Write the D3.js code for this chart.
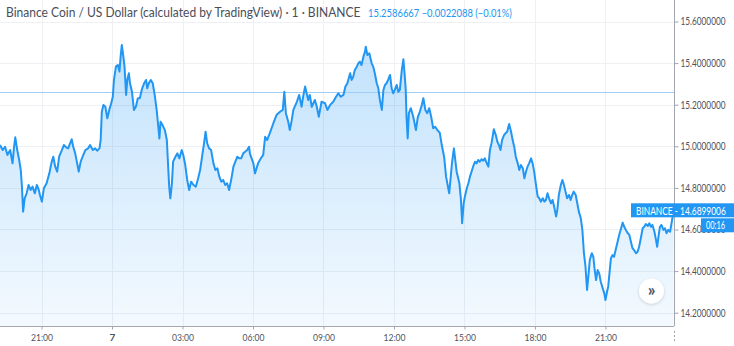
<!DOCTYPE html>
<html>
<head>
<meta charset="utf-8">
<script src="https://cdn.jsdelivr.net/npm/d3@7"></script>
<style>
  html, body { margin: 0; padding: 0; background: #fff; }
  svg { display: block; }
</style>
</head>
<body>
<svg id="chart" width="734" height="346"></svg>
<script>
// BNB/USD one-minute closes, as [minutes since session start, price]
const seriesStart = "2020-04-06T19:14:00";
const priceSeries = [
[0,15.006],[7,14.982],[13,14.998],[19,14.958],[26,14.982],[32,14.918],[36,14.998],[39,15.043],[44,14.982],[49,14.934],[53,14.886],[56,14.806],[59,14.686],[63,14.750],[68,14.774],[73,14.814],[78,14.790],[83,14.806],[89,14.774],[94,14.814],[99,14.790],[102,14.766],[107,14.734],[112,14.798],[119,14.822],[126,14.870],[132,14.926],[136,14.950],[141,14.902],[146,14.878],[151,14.950],[158,14.982],[163,15.006],[169,14.995],[174,14.990],[179,15.014],[183,15.034],[187,14.998],[192,14.966],[197,14.918],[201,14.878],[206,14.926],[211,14.950],[218,14.982],[225,14.990],[230,15.006],[237,14.982],[243,14.990],[248,14.979],[254,14.990],[257,15.030],[260,15.166],[264,15.199],[269,15.190],[274,15.135],[279,15.175],[284,15.207],[288,15.238],[291,15.319],[296,15.383],[301,15.391],[305,15.359],[308,15.431],[311,15.487],[315,15.431],[318,15.383],[322,15.247],[325,15.319],[329,15.351],[332,15.303],[337,15.262],[342,15.175],[347,15.190],[352,15.231],[357,15.231],[363,15.279],[368,15.303],[373,15.319],[376,15.279],[380,15.303],[385,15.319],[390,15.303],[395,15.247],[400,15.175],[403,15.118],[407,15.038],[410,15.118],[415,15.102],[421,15.078],[426,15.030],[429,14.918],[432,14.806],[435,14.750],[439,14.822],[442,14.926],[448,14.950],[453,14.966],[458,14.942],[464,14.982],[468,14.958],[473,14.910],[478,14.838],[483,14.790],[488,14.830],[494,14.814],[500,14.806],[506,14.846],[511,14.886],[516,14.950],[521,15.014],[525,15.070],[529,15.014],[534,14.990],[539,14.982],[545,14.918],[550,14.886],[555,14.894],[560,14.854],[565,14.830],[570,14.838],[575,14.814],[580,14.822],[585,14.790],[591,14.846],[596,14.902],[601,14.926],[606,14.950],[611,14.942],[616,14.942],[621,14.966],[626,14.974],[631,14.982],[636,14.998],[638,14.966],[647,14.918],[651,14.870],[659,14.918],[666,14.942],[672,14.958],[677,15.046],[682,15.030],[689,15.063],[698,15.111],[706,15.150],[715,15.166],[722,15.175],[726,15.262],[730,15.159],[736,15.118],[740,15.078],[745,15.126],[749,15.175],[758,15.214],[764,15.247],[770,15.190],[774,15.238],[779,15.287],[783,15.255],[787,15.223],[791,15.247],[796,15.190],[804,15.223],[809,15.190],[814,15.142],[821,15.214],[830,15.207],[836,15.175],[843,15.199],[851,15.214],[858,15.238],[864,15.255],[870,15.238],[877,15.247],[882,15.287],[887,15.303],[894,15.351],[898,15.319],[902,15.335],[906,15.367],[911,15.383],[915,15.399],[919,15.407],[923,15.391],[928,15.431],[932,15.455],[934,15.479],[938,15.439],[943,15.447],[949,15.399],[953,15.383],[957,15.351],[962,15.303],[966,15.279],[970,15.223],[975,15.175],[979,15.271],[983,15.295],[987,15.303],[991,15.319],[996,15.343],[1000,15.279],[1004,15.255],[1008,15.271],[1013,15.295],[1017,15.262],[1021,15.271],[1026,15.367],[1030,15.418],[1033,15.351],[1036,15.271],[1038,15.142],[1041,15.038],[1044,15.159],[1049,15.183],[1054,15.150],[1057,15.126],[1062,15.078],[1067,15.142],[1072,15.166],[1077,15.199],[1081,15.231],[1086,15.175],[1091,15.159],[1096,15.183],[1101,15.142],[1106,15.087],[1111,15.094],[1117,15.078],[1123,15.064],[1128,15.006],[1134,14.950],[1139,14.854],[1143,14.814],[1147,14.774],[1151,14.854],[1154,14.918],[1159,14.990],[1166,14.878],[1173,14.822],[1177,14.742],[1180,14.630],[1184,14.726],[1187,14.758],[1192,14.798],[1196,14.822],[1200,14.854],[1204,14.878],[1208,14.902],[1213,14.926],[1217,14.918],[1221,14.934],[1225,14.926],[1230,14.938],[1234,14.931],[1238,14.942],[1243,14.918],[1247,14.902],[1251,14.982],[1255,15.014],[1261,15.082],[1266,15.054],[1270,15.022],[1274,15.006],[1278,14.982],[1282,15.030],[1287,15.054],[1291,15.063],[1295,15.070],[1300,15.107],[1305,15.070],[1309,15.030],[1313,14.998],[1317,14.950],[1322,14.918],[1326,14.886],[1330,14.910],[1335,14.894],[1339,14.846],[1343,14.878],[1347,14.902],[1351,14.918],[1356,14.942],[1360,14.918],[1364,14.878],[1368,14.822],[1373,14.758],[1377,14.750],[1381,14.734],[1386,14.750],[1390,14.734],[1394,14.742],[1398,14.774],[1402,14.750],[1407,14.726],[1411,14.742],[1415,14.710],[1420,14.662],[1423,14.694],[1427,14.766],[1432,14.814],[1436,14.838],[1440,14.814],[1444,14.782],[1448,14.750],[1453,14.766],[1457,14.742],[1461,14.766],[1465,14.782],[1470,14.766],[1474,14.726],[1478,14.686],[1483,14.654],[1487,14.598],[1491,14.486],[1495,14.421],[1499,14.309],[1503,14.389],[1506,14.453],[1511,14.486],[1515,14.469],[1518,14.413],[1522,14.357],[1526,14.405],[1530,14.389],[1534,14.349],[1539,14.317],[1543,14.293],[1546,14.261],[1550,14.301],[1553,14.325],[1557,14.405],[1560,14.462],[1564,14.477],[1568,14.469],[1573,14.510],[1577,14.541],[1581,14.574],[1586,14.606],[1590,14.633],[1594,14.613],[1598,14.598],[1603,14.582],[1607,14.574],[1611,14.541],[1615,14.510],[1619,14.501],[1624,14.486],[1628,14.493],[1632,14.517],[1637,14.565],[1641,14.606],[1645,14.613],[1649,14.626],[1654,14.617],[1658,14.630],[1662,14.613],[1666,14.622],[1671,14.589],[1675,14.550],[1678,14.517],[1682,14.574],[1685,14.613],[1689,14.622],[1694,14.598],[1698,14.606],[1702,14.582],[1706,14.598],[1711,14.589],[1720,14.6899006]
];
const visibleMinutes = 1721;

const priceTicks = [14.2, 14.4, 14.6, 14.8, 15.0, 15.2, 15.4, 15.6];
const priceDomain = [14.2, 15.6];
const sessionPrice = 15.2586667;
const lastPrice = 14.6899006;

const titleText = "Binance Coin / US Dollar (calculated by TradingView) \u00b7 1 \u00b7 BINANCE";
const changeText = "15.2586667 \u22120.0022088 (\u22120.01%)";
const lastLabel = "BINANCE - 14.6899006";
const countdownLabel = "00:16";

const W = 734, H = 346;
const paneRight = 674, paneBottom = 326;
const blue = "#2196f3";
const gridColor = "#eef0f4";
const textColor = "#50535e";
const font = "Lato, 'Open Sans', sans-serif";

// condensed text: squeeze a label horizontally about its anchor to a given width
const fit = (sel, w) => sel.each(function () {
  const natural = this.getComputedTextLength();
  if (!natural) return;
  const k = w / natural;
  const ax = +this.getAttribute("x") || 0;
  d3.select(this).attr("transform", `translate(${ax},0) scale(${k},1) translate(${-ax},0)`);
});

const svg = d3.select("#chart");
svg.append("rect").attr("width", W).attr("height", H).attr("fill", "#fff");

const t0 = new Date(seriesStart);
const addMin = m => new Date(t0.getTime() + m * 60000);
const data = priceSeries.map(([m, p]) => ({ t: addMin(m), p }));

const x = d3.scaleTime().domain([t0, addMin(visibleMinutes)]).range([0, paneRight]);
const y = d3.scaleLinear().domain(priceDomain).range([312.7, 21.5]);

const timeTicks = d3.timeHour.every(3).range(t0, addMin(visibleMinutes));
const fmtHour = d3.timeFormat("%H:%M");
const fmtDay = d3.timeFormat("%-d");
const isDay = d => d.getHours() === 0;
const timeLabel = d => (isDay(d) ? fmtDay(d) : fmtHour(d));

// grid
const grid = svg.append("g");
grid.selectAll("line.v").data(timeTicks).join("line")
  .attr("x1", d => Math.round(x(d)) + 0.5).attr("x2", d => Math.round(x(d)) + 0.5)
  .attr("y1", 0).attr("y2", paneBottom)
  .attr("stroke", gridColor).attr("stroke-width", 1);
grid.selectAll("line.h").data(priceTicks).join("line")
  .attr("x1", 0).attr("x2", paneRight)
  .attr("y1", d => Math.round(y(d)) + 0.5).attr("y2", d => Math.round(y(d)) + 0.5)
  .attr("stroke", gridColor).attr("stroke-width", 1);

// area fill
const defs = svg.append("defs");
const grad = defs.append("linearGradient").attr("id", "areaFill")
  .attr("gradientUnits", "userSpaceOnUse")
  .attr("x1", 0).attr("x2", 0).attr("y1", y(d3.max(data, d => d.p))).attr("y2", paneBottom);
grad.append("stop").attr("offset", 0).attr("stop-color", blue).attr("stop-opacity", 0.28);
grad.append("stop").attr("offset", 1).attr("stop-color", blue).attr("stop-opacity", 0.05);

const shadow = defs.append("filter").attr("id", "btnShadow")
  .attr("x", "-50%").attr("y", "-50%").attr("width", "200%").attr("height", "200%");
shadow.append("feDropShadow").attr("dx", 0).attr("dy", 1).attr("stdDeviation", 1.5)
  .attr("flood-color", "#000").attr("flood-opacity", 0.18);

svg.append("path").datum(data)
  .attr("fill", "url(#areaFill)")
  .attr("d", d3.area().x(d => x(d.t)).y0(paneBottom).y1(d => y(d.p)));

// session price line
svg.append("line")
  .attr("x1", 0).attr("x2", paneRight)
  .attr("y1", Math.round(y(sessionPrice)) + 0.5).attr("y2", Math.round(y(sessionPrice)) + 0.5)
  .attr("stroke", "#9fcdf6").attr("stroke-width", 1);

// price line
svg.append("path").datum(data)
  .attr("fill", "none").attr("stroke", blue).attr("stroke-width", 2)
  .attr("stroke-linejoin", "round")
  .attr("d", d3.line().x(d => x(d.t)).y(d => y(d.p)));

// right price axis
const yAxis = svg.append("g").attr("transform", `translate(${paneRight + 0.5},0)`)
  .call(d3.axisRight(y).tickValues(priceTicks).tickFormat(d3.format(".7f")).tickSize(4).tickPadding(2));
yAxis.select(".domain").remove();
yAxis.selectAll(".tick line").attr("stroke", "#a3a6af");
yAxis.selectAll("text").attr("fill", textColor).attr("font-family", font).attr("font-size", 10.5)
  .call(fit, 45);
svg.append("line").attr("x1", paneRight + 0.5).attr("x2", paneRight + 0.5)
  .attr("y1", 0).attr("y2", paneBottom).attr("stroke", "#a3a6af");
svg.append("line").attr("x1", paneRight + 0.5).attr("x2", paneRight + 0.5)
  .attr("y1", 331).attr("y2", 341).attr("stroke", "#a3a6af").attr("stroke-dasharray", "2,2");

// bottom time axis
const xAxis = svg.append("g").attr("transform", `translate(0,${paneBottom + 0.5})`)
  .call(d3.axisBottom(x).tickValues(timeTicks).tickFormat(timeLabel).tickSize(3).tickPadding(4));
xAxis.select(".domain").remove();
xAxis.selectAll(".tick line").attr("stroke", "#a3a6af");
xAxis.selectAll("text").attr("fill", textColor).attr("font-family", font).attr("font-size", 10)
  .attr("font-weight", d => isDay(d) ? "bold" : null);
xAxis.selectAll(".tick text").filter(d => !isDay(d)).call(fit, 22);
svg.append("line").attr("x1", 0).attr("x2", paneRight)
  .attr("y1", paneBottom + 0.5).attr("y2", paneBottom + 0.5).attr("stroke", "#a3a6af");

// legend
svg.append("text").attr("x", 6).attr("y", 17.5)
  .attr("font-family", font).attr("font-size", 13).attr("fill", "#4a4e59")
  .text(titleText).call(fit, 355);
svg.append("text").attr("x", 368).attr("y", 17.5)
  .attr("font-family", font).attr("font-size", 12).attr("fill", blue)
  .text(changeText).call(fit, 144);

// last price label
const ly = y(lastPrice);
svg.append("rect").attr("x", 631).attr("y", ly - 7.5).attr("width", 103).attr("height", 14)
  .attr("fill", blue);
svg.append("text").attr("x", 636).attr("y", ly + 4)
  .attr("font-family", font).attr("font-size", 11).attr("fill", "#fff")
  .text(lastLabel).call(fit, 90);
svg.append("rect").attr("x", 701).attr("y", ly + 7.5).attr("width", 33).attr("height", 14)
  .attr("fill", blue);
svg.append("text").attr("x", 706).attr("y", ly + 18.5)
  .attr("font-family", font).attr("font-size", 11).attr("fill", "#fff")
  .text(countdownLabel).call(fit, 19);

// scroll-to-realtime button
const btn = svg.append("g").attr("transform", "translate(651.5,291)");
btn.append("circle").attr("r", 12.5).attr("fill", "#fff").attr("filter", "url(#btnShadow)");
btn.append("text").attr("text-anchor", "middle").attr("y", 5)
  .attr("font-family", font).attr("font-size", 17).attr("font-weight", "bold")
  .attr("fill", "#50535e").text("\u00bb");
</script>
</body>
</html>
